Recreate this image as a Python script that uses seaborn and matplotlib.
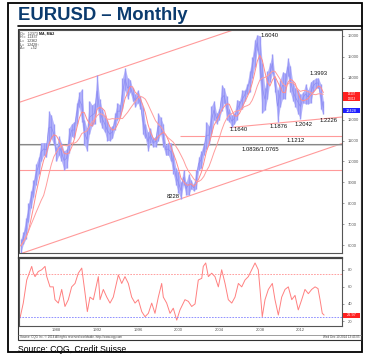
import numpy as np
import pandas as pd
import matplotlib
matplotlib.use("Agg")
import matplotlib.pyplot as plt
import seaborn as sns
from matplotlib.patches import Rectangle
from matplotlib.lines import Line2D
import matplotlib.transforms as mtransforms

sns.set_theme(style="white")
plt.rcParams['font.family'] = ['Liberation Sans', 'DejaVu Sans']

# ---------------- data (EURUSD x 10000), quarterly low / high ----------------
quarters = pd.period_range("1985Q1", "2014Q4", freq="Q")
q_low = [5650, 6050, 6300, 7100,   7800, 8300, 8900, 9400,   10000, 10300, 10200, 10800,
         11100, 10800, 10000, 10300,  10000, 9600, 9700, 10400,  11200, 11100, 11800, 12600,
         11900, 10800, 10500, 11300,  11700, 11800, 12600, 11900,  11600, 11400, 11000, 11000,
         11100, 11500, 12000, 12100,  12500, 13400, 13000, 13300,  12900, 12600, 12800, 12500,
         11300, 11100, 10500, 10900,  10700, 10700, 11000, 11300,  10700, 10300, 10300, 10000,
         9400, 8900, 8500, 8228,      8900, 8400, 8400, 8700,     8600, 8700, 9600, 9700,
         10300, 10600, 10800, 11300,  12000, 11800, 12000, 12400,  12800, 12000, 11900, 11640,
         11800, 12000, 12500, 12500,  12900, 13200, 13300, 14000,  14500, 15300, 13900, 12330,
         12450, 13000, 13800, 14200,  13300, 11876, 12600, 13000,  13000, 14100, 13300, 12900,
         12620, 12280, 12042, 12800,  12750, 12750, 12800, 13300,  13500, 13500, 12500, 12246]
q_high = [6300, 6650, 7300, 8000,   8600, 9100, 9900, 10200,   10900, 10900, 10900, 12400,
          12200, 11800, 10700, 11200,  10900, 10500, 10600, 11600,  11800, 11900, 12800, 13300,
          13450, 12000, 11600, 12900,  12700, 12800, 14120, 13000,  12500, 12200, 12000, 11600,
          11700, 12300, 12800, 12700,  14000, 14470, 14000, 13900,  13500, 13200, 13400, 13100,
          12600, 11800, 11400, 11600,  11100, 11200, 12300, 12100,  11800, 10800, 10900, 10900,
          10400, 9700, 9500, 9000,     9600, 9000, 9400, 9100,     8900, 9600, 10200, 10500,
          10900, 11900, 11700, 12650,  12900, 12300, 12500, 13660,  13500, 13100, 12500, 12200,
          12300, 12950, 12900, 13400,  13400, 13700, 14300, 14970,  15800, 16040, 16000, 14700,
          13500, 14300, 14700, 15150,  14000, 13400, 13900, 14280,  14200, 14940, 14550, 13800,
          13500, 13400, 13200, 13300,  13700, 13400, 13800, 13900,  13970, 13993, 13700, 12900]

# RSI readings (decimal year, value)
rsi_year = [1985.05, 1985.37, 1985.71, 1986.20, 1986.36, 1986.53, 1986.85, 1987.18, 1987.51, 1987.68,
            1988.00, 1988.32, 1988.49, 1988.82, 1989.15, 1989.47, 1989.80, 1990.13, 1990.46, 1990.78,
            1991.12, 1991.44, 1991.67, 1991.93, 1992.26, 1992.75, 1992.92, 1993.24, 1993.58, 1993.90,
            1994.22, 1994.72, 1995.05, 1995.37, 1995.70, 1996.03, 1996.36, 1996.68, 1997.02, 1997.34,
            1997.67, 1998.00, 1998.32, 1998.65, 1998.98, 1999.14, 1999.47, 1999.80, 2000.12, 2000.46,
            2000.78, 2001.27, 2001.60, 2001.93, 2002.26, 2002.58, 2002.92, 2003.07, 2003.31, 2003.57,
            2003.90, 2004.22, 2004.55, 2004.88, 2005.21, 2005.53, 2005.87, 2006.19, 2006.52, 2006.85,
            2007.17, 2007.50, 2007.83, 2008.16, 2008.48, 2008.65, 2008.87, 2009.14, 2009.47, 2009.86,
            2010.12, 2010.45, 2010.78, 2011.11, 2011.43, 2011.77, 2012.09, 2012.41, 2012.75, 2013.07,
            2013.40, 2013.73, 2014.06, 2014.35, 2014.55, 2014.77, 2014.95]
rsi_val = [23.5, 41, 68, 84, 76, 72, 78, 80, 84, 72,
           60, 60, 45, 41, 57, 37, 45, 60, 64, 76,
           82, 53, 31, 48, 45, 72, 45, 57, 48, 41,
           48, 74, 64, 72, 64, 48, 41, 45, 31, 25,
           29, 41, 29, 48, 64, 48, 41, 29, 35, 21,
           33, 45, 43, 37, 40, 68, 70, 84, 88, 72,
           76, 72, 60, 80, 64, 45, 41, 48, 64, 60,
           68, 72, 80, 88, 80, 57, 25, 45, 57, 64,
           45, 27, 48, 57, 60, 45, 50, 33, 45, 57,
           52, 57, 60, 58, 45, 29, 26.97]

# annotation levels
hlevels = [10836, 10765, 9590]
level_1212 = 11212
upper_line = ([1984.85, 2006.0], [12800, 16270])
lower_line = ([1985.22, 2016.71], [5618, 10857])
support_line = ([2005.70, 2016.71], [11620, 12121])
labels = [("1.6040", 2009.63, 16033), ("1.3993", 2014.45, 14206), ("1.2226", 2015.34, 11945),
          ("1.1876", 2010.52, 11658), ("1.2042", 2012.93, 11787), ("1.1640", 2006.58, 11534),
          ("1.1212", 2012.19, 11024), ("1.0836/1.0765", 2008.65, 10547), ("8228", 2000.09, 8319)]
info_lines = ["O=   12373", "Hi=  12437", "L=   12362", "L=   12428\u2191", "\u0394=      +52"]
year_ticks = [1988, 1992, 1996, 2000, 2004, 2008, 2012]
price_ticks = [6000, 7000, 8000, 9000, 10000, 11000, 12000, 13000, 14000, 15000, 16000]
hidden_tick = 13000  # covered by the MA value boxes in the original

# ---------------- derived ----------------
xq = np.array([q.year + (q.quarter - 0.5) / 4 for q in quarters])
low = np.array(q_low, float)
high = np.array(q_high, float)
mid = (low + high) / 2
df = pd.DataFrame({"year": xq, "low": low, "high": high, "mid": mid})
df["ma1"] = df["mid"].rolling(4, min_periods=1).mean()
df["ma2"] = df["mid"].rolling(10, min_periods=1).mean()
rsi_df = pd.DataFrame({"year": rsi_year, "rsi": rsi_val})

W, H = 370, 360
fig = plt.figure(figsize=(W / 100, H / 100), dpi=100)
fig.patch.set_facecolor("white")

def fr(x0, y0, x1, y1):
    return [x0 / W, 1 - y1 / H, (x1 - x0) / W, (y1 - y0) / H]

XMIN, XMAX = 1984.95, 2016.71
ax = fig.add_axes(fr(19, 30, 342, 253))
ax2 = fig.add_axes(fr(19, 258, 342, 325.7))

# ---- price panel ----
ax.fill_between(df["year"], df["low"], df["high"], color="#b6b6fb", lw=0, zorder=2)
ax.vlines(df["year"], df["low"], df["high"], color="#9a9af6", lw=1.0, zorder=2)
sns.lineplot(data=df, x="year", y="mid", ax=ax, color="#8c8cf2", lw=0.5, zorder=3)
sns.lineplot(data=df, x="year", y="ma1", ax=ax, color="#ff8c8c", lw=0.7, zorder=4)
sns.lineplot(data=df, x="year", y="ma2", ax=ax, color="#ff9c9c", lw=0.7, zorder=4)
ax.plot(*upper_line, color="#ff9a9a", lw=0.8, zorder=1)
ax.plot(*lower_line, color="#ff9a9a", lw=0.8, zorder=1)
ax.plot(*support_line, color="#ff9a9a", lw=0.8, zorder=1)
ax.axhline(hlevels[0], color="#888888", lw=0.8, zorder=1)
ax.axhline(hlevels[1], color="#bbbbbb", lw=0.5, zorder=1)
ax.axhline(hlevels[2], color="#ff9a9a", lw=0.8, zorder=1)
ax.hlines(level_1212, 2000.8, XMAX, color="#ff9a9a", lw=0.8, zorder=1)
for t, x, y in labels:
    ax.text(x, y, t, fontsize=4.2, ha="center", va="center", color="#111111", zorder=6)
ax.set_xlim(XMIN, XMAX)
ax.set_ylim(5633, 16272)
ax.yaxis.tick_right()
ax.set_yticks(price_ticks)
ax.set_yticklabels(["" if v == hidden_tick else str(v) for v in price_ticks])
ax.tick_params(axis="y", labelsize=3, colors="#555555", length=1.5, width=0.4, pad=2.5)
ax.set_xticks([])
ax.set_xlabel("")
ax.set_ylabel("")
for t_i, s in enumerate(info_lines):
    ax.text(0.004, 0.992 - t_i * 0.016, s, transform=ax.transAxes, fontsize=2.6,
            ha="left", va="top", color="#333333")
ax.text(0.063, 0.992, "MA, MA2", transform=ax.transAxes, fontsize=2.6, ha="left",
        va="top", color="#111111", fontweight="bold")
for sp in ax.spines.values():
    sp.set_color("#555555"); sp.set_linewidth(0.8)

# ---- RSI panel ----
sns.lineplot(data=rsi_df, x="year", y="rsi", ax=ax2, color="#ff8080", lw=0.7)
ax2.axhline(75, color="#ff9090", lw=0.6, ls=(0, (2, 1.5)))
ax2.axhline(25, color="#8080ff", lw=0.6, ls=(0, (2, 1.5)))
ax2.set_xlim(XMIN, XMAX)
ax2.set_ylim(14.5, 93.8)
ax2.yaxis.tick_right()
ax2.set_yticks([20, 40, 60, 80])
ax2.tick_params(axis="y", labelsize=3, colors="#555555", length=1.5, width=0.4, pad=2.5)
ax2.set_xticks(year_ticks)
ax2.set_xticklabels([str(y) for y in year_ticks])
ax2.tick_params(axis="x", labelsize=3, colors="#555555", length=6, width=0.5, pad=-4.5,
                direction="out")
offset = mtransforms.ScaledTranslation(2 / 100, 0, fig.dpi_scale_trans)
for lab in ax2.get_xticklabels():
    lab.set_horizontalalignment("left")
    lab.set_transform(lab.get_transform() + offset)
ax2.set_xlabel("")
ax2.set_ylabel("")
for sp in ax2.spines.values():
    sp.set_color("#555555"); sp.set_linewidth(0.8)
ax2.spines["top"].set_linewidth(1.6)
ax2.spines["top"].set_color("#444444")

# value boxes on right
def vbox(ypix, text, fc, h=5, fs=2.8):
    fig.add_artist(Rectangle((343 / W, 1 - (ypix + h / 2) / H), 17 / W, h / H, fc=fc, ec="none",
                             transform=fig.transFigure))
    fig.text(351.5 / W, 1 - ypix / H, text, fontsize=fs, color="white", ha="center", va="center")

vbox(94.0, "13137", "#ff2020", h=4.6, fs=2.2)
vbox(98.8, "13013", "#ff2020", h=4.6, fs=2.2)
vbox(110.5, "12428", "#2020ff")
vbox(315.3, "26.97", "#ff2020")

# ---------------- page decorations ----------------
fig.text(18 / W, 1 - 15.5 / H, "EURUSD \u2013 Monthly", fontsize=13.3, fontweight="bold",
         color="#0b3b6e", ha="left", va="center")
fig.add_artist(Line2D([18 / W, 362 / W], [1 - 26 / H, 1 - 26 / H], color="black", lw=1.2))
fig.add_artist(Rectangle((8 / W, 1 - 352 / H), 353.5 / W, 349 / H, fill=False, ec="black", lw=1.3,
                         transform=fig.transFigure))
fig.add_artist(Rectangle((18 / W, 1 - 340 / H), 343 / W, 311 / H, fill=False, ec="#333333", lw=0.8,
                         transform=fig.transFigure))
fig.add_artist(Line2D([18 / W, 361 / W], [1 - 334.5 / H, 1 - 334.5 / H], color="#777777", lw=0.5))
fig.text(20 / W, 1 - 337.3 / H,
         "Source: CQG Inc. \u00a9 2014 All rights reserved worldwide. http://www.cqg.com",
         fontsize=2.2, color="#444444", ha="left", va="center")
fig.text(360 / W, 1 - 337.3 / H, "Wed Dec 10 2014 13:43:05", fontsize=2.2, color="#444444",
         ha="right", va="center")
fig.text(18 / W, 1 - 349 / H, "Source: CQG, Credit Suisse", fontsize=6.2, color="black",
         ha="left", va="center")

fig.savefig("out.png", dpi=100)
